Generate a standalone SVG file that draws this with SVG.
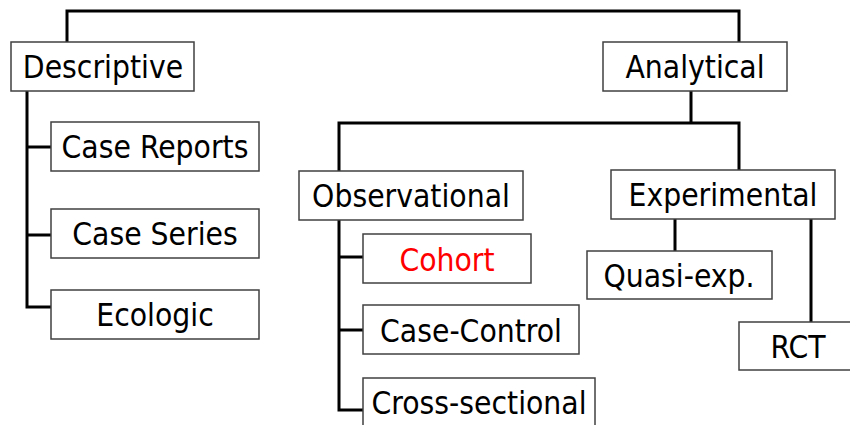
<svg xmlns="http://www.w3.org/2000/svg" width="850" height="425" viewBox="0 0 850 425">
<style>
.box{fill:#fff;stroke:#404040;stroke-width:1.5}
.lbl{font-family:"DejaVu Sans Condensed","DejaVu Sans",sans-serif;font-stretch:condensed;font-size:31.5px;fill:#000;text-anchor:middle}
.red{fill:#ff0000}
.con{fill:none;stroke:#000;stroke-width:3;stroke-linejoin:miter;stroke-linecap:square}
</style>
<rect width="850" height="425" fill="#fff"/>
<g id="connectors">
<path class="con" d="M67,42 V11 H739 V42"/>
<path class="con" d="M27,91 V307 H51 M27,147 H51 M27,235 H51"/>
<path class="con" d="M691,91 V123 M339,171 V123 H739 V170"/>
<path class="con" d="M339,220 V410 H363 M339,257 H363 M339,330 H363"/>
<path class="con" d="M675,219 V251 M811,219 V322"/>
</g>
<g id="descriptive"><rect class="box" x="11" y="42" width="183" height="49"/><text class="lbl" x="103" y="78">Descriptive</text></g>
<g id="analytical"><rect class="box" x="603" y="42" width="184" height="49"/><text class="lbl" x="695" y="78">Analytical</text></g>
<g id="case-reports"><rect class="box" x="51" y="122" width="208" height="49"/><text class="lbl" x="155" y="158">Case Reports</text></g>
<g id="case-series"><rect class="box" x="51" y="209" width="208" height="49"/><text class="lbl" x="155" y="245">Case Series</text></g>
<g id="ecologic"><rect class="box" x="51" y="290" width="208" height="49"/><text class="lbl" x="155" y="326">Ecologic</text></g>
<g id="observational"><rect class="box" x="299" y="171" width="224" height="49"/><text class="lbl" x="411" y="207">Observational</text></g>
<g id="experimental"><rect class="box" x="611" y="170" width="224" height="49"/><text class="lbl" x="723" y="206">Experimental</text></g>
<g id="cohort"><rect class="box" x="363" y="234" width="168" height="49"/><text class="lbl red" x="447" y="271">Cohort</text></g>
<g id="case-control"><rect class="box" x="363" y="305" width="216" height="49"/><text class="lbl" x="471" y="342">Case-Control</text></g>
<g id="cross-sectional"><rect class="box" x="363" y="378" width="232" height="60"/><text class="lbl" x="479" y="414">Cross-sectional</text></g>
<g id="quasi-exp"><rect class="box" x="587" y="251" width="185" height="48"/><text class="lbl" x="679" y="287">Quasi-exp.</text></g>
<g id="rct"><rect class="box" x="739" y="322" width="118" height="48"/><text class="lbl" x="798" y="358">RCT</text></g>
</svg>
